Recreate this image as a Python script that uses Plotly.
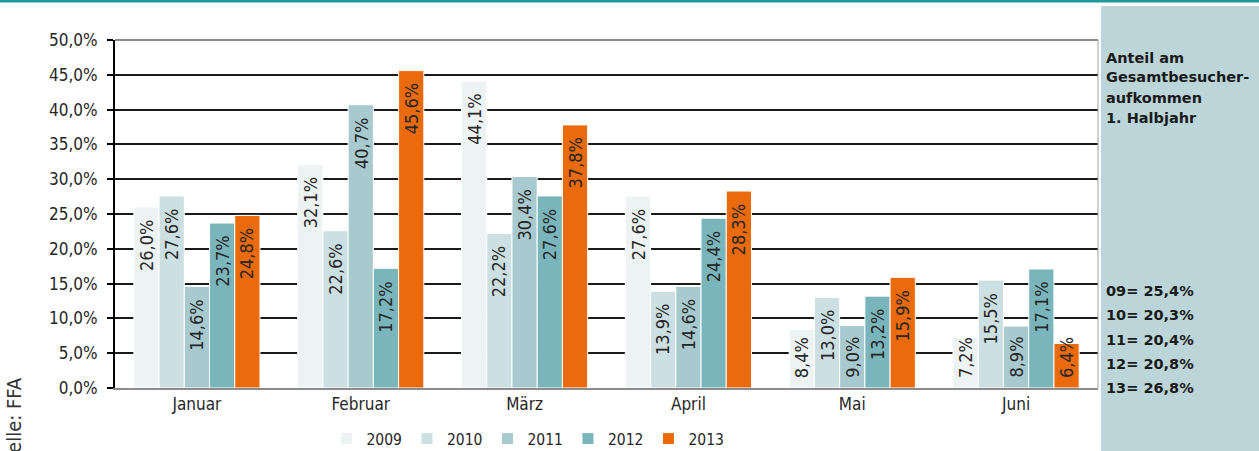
import plotly.graph_objects as go

# ---------------- data ----------------
months = ["Januar", "Februar", "März", "April", "Mai", "Juni"]
years = ["2009", "2010", "2011", "2012", "2013"]
v2009 = [26.0, 32.1, 44.1, 27.6, 8.4, 7.2]
v2010 = [27.6, 22.6, 22.2, 13.9, 13.0, 15.5]
v2011 = [14.6, 40.7, 30.4, 14.6, 9.0, 8.9]
v2012 = [23.7, 17.2, 27.6, 24.4, 13.2, 17.1]
v2013 = [24.8, 45.6, 37.8, 28.3, 15.9, 6.4]
series = [v2009, v2010, v2011, v2012, v2013]
ytick_vals = [0, 5, 10, 15, 20, 25, 30, 35, 40, 45, 50]
ytick_text = ["0,0%", "5,0%", "10,0%", "15,0%", "20,0%", "25,0%",
              "30,0%", "35,0%", "40,0%", "45,0%", "50,0%"]
panel_title = ["Anteil am", "Gesamtbesucher-", "aufkommen", "1. Halbjahr"]
share_labels = ["09= 25,4%", "10= 20,3%", "11= 20,4%", "12= 20,8%", "13= 26,8%"]
source_text = "Quelle: FFA"

# ---------------- style ----------------
colors = ["#EDF3F3", "#CCDFE2", "#A8CACE", "#7BB5BC", "#EB6A0C"]
FONT = "DejaVu Sans Condensed, Liberation Sans, sans-serif"
BOLD = "DejaVu Sans, Liberation Sans, sans-serif"
TXT = "#262626"
W, H = 1259, 451
ML, MR, MT, MB = 115, 161, 40, 63
PW, PH = W - ML - MR, H - MT - MB
BARGAP = 0.23
LABEL_MIN = 10.0  # bars shorter than this get their label anchored at the base


def fmt(v):
    return f"{v:.1f}".replace(".", ",") + "%"


def px_x(p):
    return (p - ML) / PW


def px_y(p):
    return (H - MB - p) / PH


fig = go.Figure()
for yr, vals, col in zip(years, series, colors):
    fig.add_trace(go.Bar(
        name=yr, x=months, y=vals,
        marker=dict(color=col, line=dict(color="white", width=1)),
    ))

# data labels (rotated, inside end of each bar)
n = len(years)
bw = (1 - BARGAP) / n
for i, vals in enumerate(series):
    for j, v in enumerate(vals):
        xpos = j + (i - (n - 1) / 2) * bw
        if v >= LABEL_MIN:
            fig.add_annotation(x=xpos, y=v, xref="x", yref="y", text=fmt(v),
                               textangle=-90, showarrow=False, yanchor="top",
                               xanchor="center", yshift=-11,
                               font=dict(family=FONT, size=18, color=TXT))
        else:
            fig.add_annotation(x=xpos, y=0, xref="x", yref="y", text=fmt(v),
                               textangle=-90, showarrow=False, yanchor="bottom",
                               xanchor="center", yshift=8,
                               font=dict(family=FONT, size=18, color=TXT))

# right info panel
fig.add_shape(type="rect", xref="paper", yref="paper",
              x0=px_x(1101), x1=px_x(1262), y0=px_y(455), y1=px_y(6),
              fillcolor="#BBD5D8", line=dict(width=0), layer="below")
# top teal rule
fig.add_shape(type="rect", xref="paper", yref="paper",
              x0=px_x(-5), x1=px_x(1262), y0=px_y(2.5), y1=px_y(-6),
              fillcolor="#1F989B", line=dict(width=0), layer="above")
# plot frame: top gray line and right gray border
fig.add_shape(type="line", xref="paper", yref="paper", x0=0, x1=1, y0=1, y1=1,
              line=dict(color="#8C8C8C", width=2), layer="above")
fig.add_shape(type="line", xref="paper", yref="paper", x0=1, x1=1, y0=0, y1=1,
              line=dict(color="#A0A0A0", width=1), layer="above")

for k, line in enumerate(panel_title):
    fig.add_annotation(x=px_x(1104), y=px_y(57.5 + k * 20), xref="paper", yref="paper",
                       text="<b>" + line + "</b>", showarrow=False,
                       xanchor="left", yanchor="middle",
                       font=dict(family=BOLD, size=14.5, color="#1A1A1A"))
for k, line in enumerate(share_labels):
    fig.add_annotation(x=px_x(1104), y=px_y(291 + k * 24.3), xref="paper", yref="paper",
                       text="<b>" + line + "</b>", showarrow=False,
                       xanchor="left", yanchor="middle",
                       font=dict(family=BOLD, size=14.5, color="#1A1A1A"))

# source note on the left edge (cut off by the page edge, as in the original)
fig.add_annotation(x=px_x(13), y=px_y(376), xref="paper", yref="paper",
                   text=source_text, textangle=-90, showarrow=False,
                   xanchor="center", yanchor="top",
                   font=dict(family=FONT, size=20, color="#333333"))

fig.update_layout(
    width=W, height=H, autosize=False,
    margin=dict(l=ML, r=MR, t=MT, b=MB, pad=0, autoexpand=False),
    paper_bgcolor="white", plot_bgcolor="white",
    barmode="group", bargap=BARGAP, bargroupgap=0,
    font=dict(family=FONT, size=17, color=TXT),
    showlegend=True,
    legend=dict(orientation="h", x=px_x(528), xanchor="center",
                y=px_y(439), yanchor="middle", bgcolor="rgba(0,0,0,0)",
                font=dict(family=FONT, size=15.5, color=TXT),
                itemwidth=30, traceorder="normal"),
    xaxis=dict(type="category", showgrid=False, showline=True, automargin=False,
               linecolor="#8C8C8C", linewidth=2, ticks="",
               tickfont=dict(family=FONT, size=17, color=TXT),
               range=[-0.5, len(months) - 0.5], fixedrange=True),
    yaxis=dict(range=[0, 50], tickvals=ytick_vals, ticktext=ytick_text,
               automargin=False,
               showgrid=True, gridcolor="#1A1A1A", gridwidth=1.5,
               showline=True, linecolor="#000000", linewidth=2,
               ticks="outside", ticklen=6, tickcolor="#000000", tickwidth=1.5,
               ticklabelstandoff=6,
               tickfont=dict(family=FONT, size=17, color=TXT),
               zeroline=False, fixedrange=True),
)

fig.write_html(
    "out.html",
    config={"displayModeBar": False},
    post_script="document.body.style.margin='0';document.body.style.overflow='hidden';",
)
